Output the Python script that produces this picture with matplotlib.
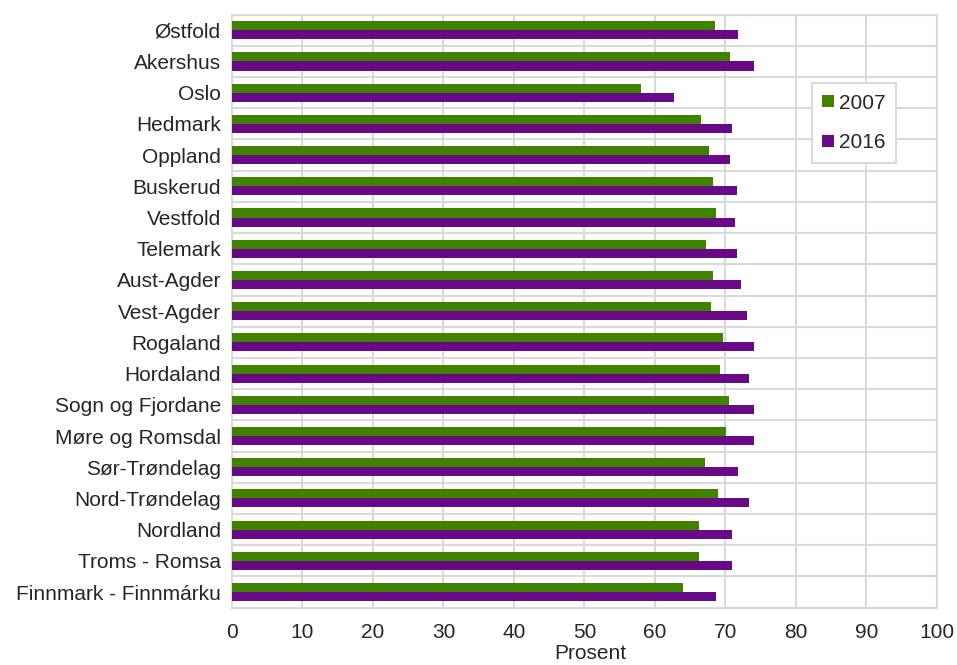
import matplotlib.pyplot as plt
import numpy as np

plt.rcParams['font.family'] = ['Liberation Sans', 'DejaVu Sans']

# fylker, ovenfra og ned
fylker = ['Østfold', 'Akershus', 'Oslo', 'Hedmark', 'Oppland', 'Buskerud',
          'Vestfold', 'Telemark', 'Aust-Agder', 'Vest-Agder', 'Rogaland',
          'Hordaland', 'Sogn og Fjordane', 'Møre og Romsdal', 'Sør-Trøndelag',
          'Nord-Trøndelag', 'Nordland', 'Troms - Romsa', 'Finnmark - Finnmárku']
verdier_2007 = [68.5, 70.7, 58.0, 66.5, 67.6, 68.3, 68.7, 67.2, 68.3, 67.9,
                69.6, 69.2, 70.5, 70.1, 67.1, 69.0, 66.2, 66.2, 64.0]
verdier_2016 = [71.8, 74.0, 62.7, 70.9, 70.7, 71.6, 71.4, 71.6, 72.2, 73.0,
                74.1, 73.4, 74.0, 74.0, 71.8, 73.4, 70.9, 70.9, 68.7]
xticks = [0, 10, 20, 30, 40, 50, 60, 70, 80, 90, 100]

gronn = '#3F8200'
lilla = '#680A86'
grid = '#D9D9D9'
tekst = '#262626'

fig = plt.figure(figsize=(9.57, 6.65), dpi=100)
ax = fig.add_axes([0.2424, 0.0862, 0.7366, 0.8918])

y = np.arange(len(fylker))
h = 0.29
ax.barh(y - h / 2, verdier_2007, height=h, color=gronn, label='2007', zorder=3)
ax.barh(y + h / 2, verdier_2016, height=h, color=lilla, label='2016', zorder=3)

ax.set_ylim(len(fylker) - 0.5, -0.5)
ax.set_xlim(0, 100)
ax.set_xticks(xticks)
ax.set_yticks(y)
ax.set_yticklabels(fylker)

# rutenett: vertikalt på hver 10, horisontalt mellom kategoriene
ax.set_yticks(np.arange(len(fylker) + 1) - 0.5, minor=True)
ax.grid(True, axis='x', which='major', color=grid, linewidth=1.5, zorder=0)
ax.grid(True, axis='y', which='minor', color=grid, linewidth=1.5, zorder=0)
ax.tick_params(axis='both', which='both', length=0)
ax.tick_params(axis='x', pad=11, labelsize=15, labelcolor=tekst)
ax.tick_params(axis='y', pad=8, labelsize=15, labelcolor=tekst)
for s in ax.spines.values():
    s.set_color(grid)
    s.set_linewidth(1.5)

ax.set_xlabel('Prosent', fontsize=15, color=tekst, labelpad=2)
ax.xaxis.set_label_coords(0.508, -0.062)

leg = ax.legend(loc='upper left', bbox_to_anchor=(0.8227, 0.8845), fontsize=15,
                handlelength=0.55, handleheight=0.55, handletextpad=0.25,
                labelspacing=1.0, borderpad=0.5, borderaxespad=0,
                fancybox=False, edgecolor=grid, framealpha=1)
leg.get_frame().set_linewidth(1.5)
for t in leg.get_texts():
    t.set_color(tekst)

fig.savefig('out.png', dpi=100)
